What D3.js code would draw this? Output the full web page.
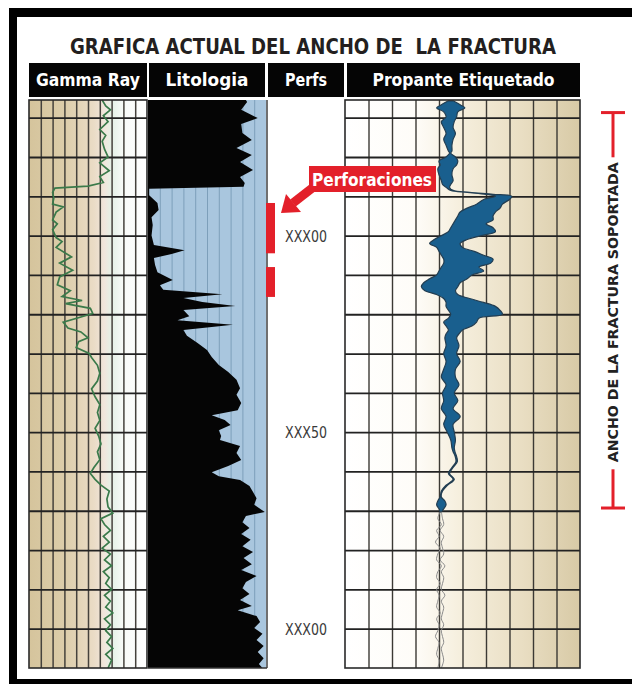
<!DOCTYPE html>
<html>
<head>
<meta charset="utf-8">
<script src="https://cdn.jsdelivr.net/npm/d3@7"></script>
<style>
  body { margin: 0; background: #fff; }
  svg { display: block; }
</style>
</head>
<body>
<div id="chart"></div>
<script>
// ---- data (depth in log units, track values 0-10) ----
var grDepth = [-34.5,-33,-32,-30.5,-29,-27,-25.5,-24,-22,-20,-18.5,-16.5,-15,-13.5,-12.6,-12.1,-11,-9.5,-8,-7.3,-6,-4,-3,-1.5,0.5,1.5,3,5.4,7,8.8,10.5,12.5,14,15.5,16.5,17.3,18.5,19.8,22,23.5,24.5,26,27,28.5,30,31,33,35,37,39,41,43,45,47,49,51,53,55,57,59,60.5,62,63.5,65,67,69,70.6,72,73.5,75,76.5,78,79.5,81,82.5,84,85.5,87,88.5,90,91.5,93,94.5,96,97.5,99,100.5,102,103.5,105,106.5,108,110];
var grValue = [6.2,6.5,6.9,6.3,6.7,6.0,6.5,6.2,6.4,6.7,6.0,6.8,6.0,6.3,5.0,2.2,2.0,2.1,2.0,2.9,2.3,2.0,2.4,2.0,2.3,2.8,2.3,3.6,2.6,3.7,2.6,2.4,3.5,2.8,4.5,3.1,5.2,5.4,2.9,3.3,4.4,5.0,4.2,4.0,5.1,5.3,5.8,6.0,5.8,5.3,5.6,6.0,5.8,6.0,5.6,5.9,6.1,5.8,6.0,5.5,5.2,5.6,6.1,6.8,6.6,6.7,7.1,6.1,6.4,6.9,6.3,6.8,6.2,6.9,6.4,7.0,6.3,6.8,6.5,7.0,6.4,6.9,6.5,7.1,6.4,6.9,6.5,7.0,6.6,7.1,6.5,7.0,6.7];

var litDepth = [-34.5,-34,-32,-29.9,-28.4,-26.1,-24.3,-22.3,-20.5,-18.7,-16.7,-14.9,-13.4,-12.4,-11.9,-10.3,-8.3,-6.5,-4.7,-2.7,0,2.4,3.7,4.7,5.7,7.5,9.3,11.3,12.6,13.8,14.9,15.9,16.9,17.9,18.9,20.5,21.5,22.7,24,25.5,27.3,29.1,30.9,32.9,34.7,36.7,38.8,40.5,42.6,44.4,45.7,46.9,48.2,49.5,51,52,53.5,55.3,57.1,58.6,60.2,61.2,62.2,63.7,65.2,66.8,68.5,70.3,71.3,72.9,74.4,75.9,77.4,79,80.5,82,83.6,85.1,86.6,88.1,89.7,91.2,92.7,94.2,95.3,96.8,98.3,99.8,101.3,102.9,104.4,105.9,107.5,109,110];
var litValue = [8.3,8.4,7.9,9.3,7.9,8.0,8.8,7.5,8.8,7.8,8.9,7.8,8.2,8.1,0.1,0.1,0.8,0.9,0.3,0.4,0.3,0.5,3.1,2.0,0.5,0.6,0.8,2.1,1.0,1.3,6.3,3.0,4.6,7.4,3.0,3.5,2.5,7.2,3.0,3.3,4.2,5.0,5.4,6.0,6.8,7.5,7.8,7.5,7.9,7.6,5.4,6.5,7.0,6.0,6.2,6.1,7.8,7.5,7.9,6.8,5.4,6.0,7.8,8.6,8.9,9.2,9.0,9.9,8.3,8.0,8.6,7.9,8.7,8.0,8.9,8.1,8.8,7.9,9.2,8.3,8.0,8.6,7.8,8.8,7.6,9.2,9.5,9.0,9.7,9.2,9.8,9.3,9.8,9.4,9.7];

var propDepth = [-34.3,-33.3,-32.5,-31.5,-30.2,-29,-27.5,-26,-24.5,-23,-21.5,-21,-20,-19,-18,-17,-15.5,-14,-13,-12.3,-11.5,-11,-10.5,-10,-9.2,-8,-7,-6,-5,-4,-3,-2,-1,0,1,2,3,4,5,6,7,8,9,10,11,12,13,14,15,16,17,18,19,20,21,22,23,24,25,26,28,30,32,34,36,38,40,42,44,46,48,50,52,54,55,56,57.5,59,60.5,62,63.5,65,66.5,67.5,68.5,69.5,70.3];
var propLeft = [4.4,4.1,3.9,4.2,4.3,4.1,4.2,4.3,4.2,4.3,4.4,4.45,4.3,4.0,4.05,3.95,4.0,4.1,4.15,4.3,4.5,5.2,6.0,6.4,5.9,5.6,5.2,4.9,4.8,4.7,4.6,4.5,4.4,4.1,3.8,3.6,3.9,4.0,4.1,4.2,4.2,4.1,4.0,3.9,3.6,3.35,3.25,3.4,3.9,4.2,4.3,4.3,4.4,4.5,4.4,4.2,4.3,4.4,4.3,4.25,4.3,4.2,4.3,4.2,4.1,4.3,4.15,4.2,4.1,4.3,4.2,4.35,4.5,4.55,4.6,4.68,4.72,4.55,4.4,4.6,4.3,4.1,4.05,3.95,3.9,4.0,4.05];
var propRight = [4.6,4.9,5.1,4.8,4.75,4.65,4.6,4.7,4.6,4.55,4.55,4.5,4.7,4.8,4.75,4.6,4.55,4.6,4.5,4.45,4.6,5.3,6.3,7.1,7.0,6.7,6.6,6.4,6.3,6.3,6.0,6.3,6.4,5.8,5.2,4.9,5.0,5.5,5.9,6.3,6.2,5.7,5.9,5.4,5.2,4.9,4.8,4.7,4.8,5.3,5.9,6.4,6.6,6.7,5.7,5.6,5.4,5.0,4.85,4.75,4.85,4.75,4.9,4.7,4.7,4.85,4.65,4.8,4.6,4.9,4.6,4.65,4.7,4.65,4.68,4.74,4.78,4.6,4.45,4.65,4.36,4.15,4.1,4.25,4.3,4.2,4.1];

var tailDepth = [70.3,72,73.5,75,76.5,78,79.5,81,82.5,84,85.5,87,88.5,90,91.5,93,94.5,96,97.5,99,100.5,102,103.5,105,106.5,108,110];
var tailA = [4.05,3.95,4.1,3.9,4.0,3.85,4.05,3.95,3.9,4.1,3.95,3.9,4.05,3.9,4.0,3.95,3.9,4.05,3.9,4.0,3.95,3.85,4.0,3.95,3.9,4.0,3.95];
var tailB = [4.1,4.15,4.2,4.05,4.2,4.1,4.15,4.2,4.05,4.25,4.1,4.2,4.15,4.1,4.25,4.1,4.2,4.15,4.1,4.2,4.1,4.15,4.2,4.1,4.15,4.2,4.1];

var perfTop = [-8.3, 8.0];
var perfBottom = [4.5, 15.6];
var gridDepths = [-30,-20,-10,0,10,20,30,40,50,60,70,80,90,100];
var gridCols = [1,2,3,4,5,6,7,8,9];
var depthLabels = ["XXX00", "XXX50", "XXX00"];
var depthLabelAt = [0, 50, 100];
var headers = ["Gamma Ray", "Litologia", "Perfs", "Propante Etiquetado"];
var bracketDepth = [-31.3, 69.3];

// ---- layout ----
var W = 632, H = 684;
var trackTop = 100, trackBottom = 668;
var font = "'Liberation Sans Narrow', 'DejaVu Sans Condensed', 'Arial Narrow', sans-serif";

var svg = d3.select("#chart")
  .append("svg")
    .attr("width", W)
    .attr("height", H);

var y = d3.scaleLinear().domain([-34.5, 110]).range([trackTop, trackBottom]);
var xGR = d3.scaleLinear().domain([0, 10]).range([29, 147]);
var xLit = d3.scaleLinear().domain([0, 10]).range([148, 266]);
var xProp = d3.scaleLinear().domain([0, 10]).range([345, 580]);

// gradients
var defs = svg.append("defs");
var g1 = defs.append("linearGradient").attr("id", "grBg");
[[0, "#d5c49c"], [0.3, "#dccdaa"], [0.55, "#eadcc6"], [0.64, "#f1e6dc"], [0.7, "#e4f1e6"], [0.8, "#f8fbf8"], [1, "#ffffff"]]
  .forEach(function (s) { g1.append("stop").attr("offset", s[0]).attr("stop-color", s[1]); });
var g2 = defs.append("linearGradient").attr("id", "propBg");
[[0, "#ffffff"], [0.3, "#fefcf8"], [0.5, "#f5eedc"], [0.75, "#e9dec3"], [1, "#d8caa6"]]
  .forEach(function (s) { g2.append("stop").attr("offset", s[0]).attr("stop-color", s[1]); });

// outer frame (right side runs off the picture)
svg.append("rect").attr("x", 9).attr("y", 8).attr("width", W).attr("height", 9).attr("fill", "#000");
svg.append("rect").attr("x", 9).attr("y", 8).attr("width", 8).attr("height", H).attr("fill", "#000");
svg.append("rect").attr("x", 9).attr("y", 679).attr("width", W).attr("height", 8).attr("fill", "#000");

// title
svg.append("text")
  .attr("x", 70).attr("y", 54)
  .attr("textLength", 486).attr("lengthAdjust", "spacingAndGlyphs")
  .style("white-space", "pre")
  .style("font-family", font).style("font-weight", "bold").style("font-size", "22px")
  .attr("fill", "#231f20")
  .text("GRAFICA ACTUAL DEL ANCHO DE  LA FRACTURA");

// header boxes
var hdrX = [[29, 147], [149, 265], [268, 344], [347, 580]];
var hdrTextW = [104, 83, 42, 182];
headers.forEach(function (h, i) {
  svg.append("rect")
    .attr("x", hdrX[i][0]).attr("y", 63)
    .attr("width", hdrX[i][1] - hdrX[i][0]).attr("height", 34)
    .attr("fill", "#050505");
  svg.append("text")
    .attr("x", (hdrX[i][0] + hdrX[i][1]) / 2).attr("y", 86)
    .attr("text-anchor", "middle")
    .attr("textLength", hdrTextW[i]).attr("lengthAdjust", "spacingAndGlyphs")
    .style("font-family", font).style("font-weight", "bold").style("font-size", "18px")
    .attr("fill", "#fff")
    .text(h);
});

// track backgrounds
svg.append("rect").attr("x", xGR(0)).attr("y", trackTop)
  .attr("width", xGR(10) - xGR(0)).attr("height", trackBottom - trackTop).attr("fill", "url(#grBg)");
svg.append("rect").attr("x", xLit(0)).attr("y", trackTop)
  .attr("width", xLit(10) - xLit(0)).attr("height", trackBottom - trackTop).attr("fill", "#a9c6de");
svg.append("rect").attr("x", xProp(0)).attr("y", trackTop)
  .attr("width", xProp(10) - xProp(0)).attr("height", trackBottom - trackTop).attr("fill", "url(#propBg)");

// vertical grid lines
function vGrid(x, color, w) {
  var g = svg.append("g")
    .attr("transform", "translate(0," + trackTop + ")")
    .call(d3.axisBottom(x).tickValues(gridCols).tickSize(trackBottom - trackTop).tickFormat(""));
  g.select(".domain").remove();
  g.selectAll("line").attr("stroke", color).attr("stroke-width", w);
}
vGrid(xGR, "#45423c", 1.5);
vGrid(xLit, "#7d9fba", 1);
vGrid(xProp, "#3b3934", 1.4);

// horizontal grid lines
function hGrid(x) {
  var g = svg.append("g")
    .attr("transform", "translate(" + x(0) + ",0)")
    .call(d3.axisRight(y).tickValues(gridDepths).tickSize(x(10) - x(0)).tickFormat(""));
  g.select(".domain").remove();
  g.selectAll("line").attr("stroke", "#222").attr("stroke-width", 1.8);
}
hGrid(xGR);
hGrid(xProp);

// lithology fill
var litData = litDepth.map(function (d, i) { return {depth: d, v: litValue[i]}; });
svg.append("path")
  .datum(litData)
  .attr("fill", "#050505")
  .attr("d", d3.area()
    .y(function (d) { return y(d.depth); })
    .x0(xLit(0))
    .x1(function (d) { return xLit(d.v); }));

// gamma ray curve
var grData = grDepth.map(function (d, i) { return {depth: d, v: grValue[i]}; });
svg.append("path")
  .datum(grData)
  .attr("fill", "none")
  .attr("stroke", "#3a7a4a")
  .attr("stroke-width", 1.7)
  .attr("d", d3.line()
    .x(function (d) { return xGR(d.v); })
    .y(function (d) { return y(d.depth); }));

// propante tagged band
var propData = propDepth.map(function (d, i) { return {depth: d, l: propLeft[i], r: propRight[i]}; });
svg.append("path")
  .datum(propData)
  .attr("fill", "#195f8e")
  .attr("stroke", "#233e52")
  .attr("stroke-width", 1.2)
  .attr("d", d3.area()
    .curve(d3.curveCatmullRom)
    .y(function (d) { return y(d.depth); })
    .x0(function (d) { return xProp(d.l); })
    .x1(function (d) { return xProp(d.r); }));

[tailA, tailB].forEach(function (arr) {
  svg.append("path")
    .datum(tailDepth.map(function (d, i) { return {depth: d, v: arr[i]}; }))
    .attr("fill", "none")
    .attr("stroke", "#8a8a8a")
    .attr("stroke-width", 1)
    .attr("d", d3.line()
      .curve(d3.curveCatmullRom)
      .x(function (d) { return xProp(d.v); })
      .y(function (d) { return y(d.depth); }));
});

// track borders
[xGR, xProp].forEach(function (x) {
  svg.append("rect")
    .attr("x", x(0)).attr("y", trackTop)
    .attr("width", x(10) - x(0)).attr("height", trackBottom - trackTop)
    .attr("fill", "none").attr("stroke", "#2a2a2a").attr("stroke-width", 1.6);
});
svg.append("line")
  .attr("x1", 267).attr("x2", 267).attr("y1", trackTop).attr("y2", trackBottom)
  .attr("stroke", "#333").attr("stroke-width", 1.4);
svg.append("line")
  .attr("x1", xLit(0)).attr("x2", 267).attr("y1", trackBottom).attr("y2", trackBottom)
  .attr("stroke", "#333").attr("stroke-width", 1.4);

// perforation intervals
perfTop.forEach(function (t, i) {
  svg.append("rect")
    .attr("x", 266).attr("y", y(t))
    .attr("width", 9).attr("height", y(perfBottom[i]) - y(t))
    .attr("fill", "#e3202a");
});

// depth labels
depthLabels.forEach(function (lbl, i) {
  svg.append("text")
    .attr("x", 306).attr("y", y(depthLabelAt[i]) + 6)
    .attr("text-anchor", "middle")
    .attr("textLength", 42).attr("lengthAdjust", "spacingAndGlyphs")
    .style("font-family", font).style("font-size", "15px")
    .attr("fill", "#3a3a3a")
    .text(lbl);
});

// "Perforaciones" callout
var tipX = 281, tipY = y(perfTop[0]) + 10;
svg.append("line")
  .attr("x1", 320).attr("y1", 182).attr("x2", tipX + 12).attr("y2", tipY - 10)
  .attr("stroke", "#e3202a").attr("stroke-width", 9);
svg.append("path")
  .attr("d", "M" + tipX + "," + tipY + " L" + (tipX + 20) + "," + (tipY - 1) + " L" + (tipX + 5) + "," + (tipY - 19) + " Z")
  .attr("fill", "#e3202a");
svg.append("rect")
  .attr("x", 309).attr("y", 166).attr("width", 127).attr("height", 26)
  .attr("fill", "#e3202a");
svg.append("text")
  .attr("x", 312).attr("y", 186)
  .attr("textLength", 120).attr("lengthAdjust", "spacingAndGlyphs")
  .style("font-family", font).style("font-weight", "bold").style("font-size", "18px")
  .attr("fill", "#fff")
  .text("Perforaciones");

// bracket: supported fracture height
var bx = 613, by0 = y(bracketDepth[0]), by1 = y(bracketDepth[1]);
var textMid = (by0 + by1) / 2 + 2;
[[by0, textMid - 155], [textMid + 157, by1]].forEach(function (s) {
  svg.append("line").attr("x1", bx).attr("x2", bx).attr("y1", s[0]).attr("y2", s[1])
    .attr("stroke", "#e3202a").attr("stroke-width", 3);
});
[by0, by1].forEach(function (yy) {
  svg.append("line").attr("x1", 601).attr("x2", 625).attr("y1", yy).attr("y2", yy)
    .attr("stroke", "#e3202a").attr("stroke-width", 3);
});
svg.append("text")
  .attr("transform", "translate(" + (bx + 5) + "," + textMid + ") rotate(-90)")
  .attr("text-anchor", "middle")
  .attr("textLength", 300).attr("lengthAdjust", "spacingAndGlyphs")
  .style("font-family", font).style("font-weight", "bold").style("font-size", "14px")
  .attr("fill", "#222")
  .text("ANCHO DE LA FRACTURA SOPORTADA");
</script>
</body>
</html>
